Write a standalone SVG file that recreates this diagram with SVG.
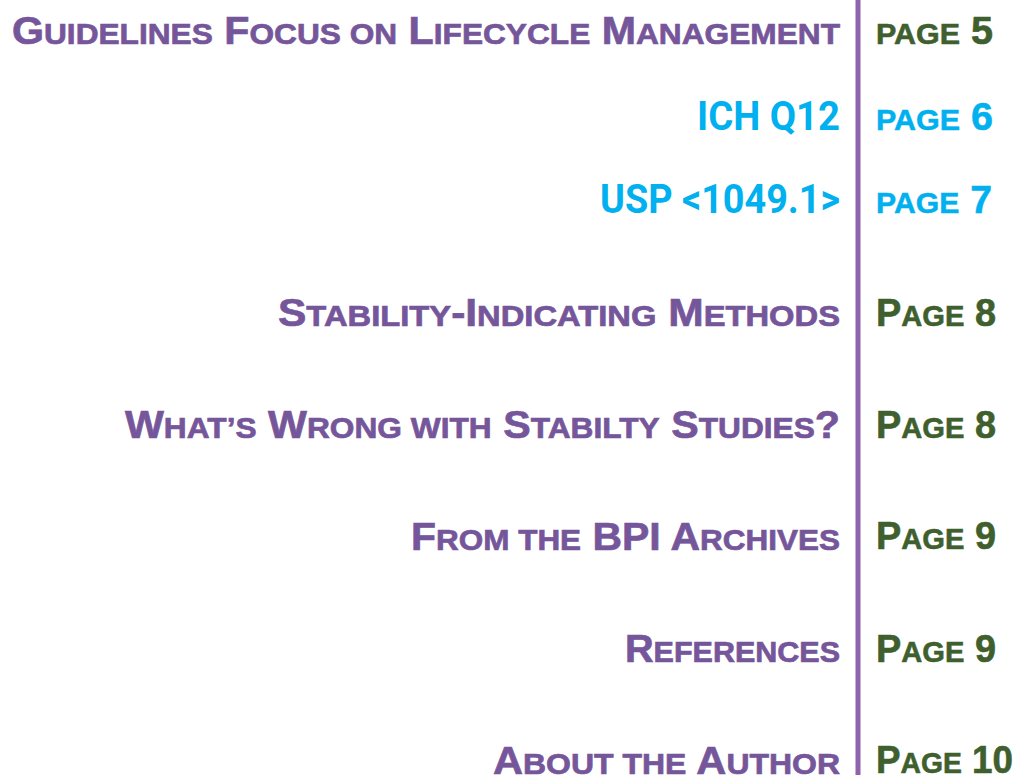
<svg xmlns="http://www.w3.org/2000/svg" width="1021" height="775" viewBox="0 0 1021 775">
<style>
.t{font-family:"Liberation Sans",Arial,sans-serif;font-weight:700;font-size:39px;fill:#76569a;stroke:#76569a;stroke-width:0.7;text-anchor:end}
.c{font-family:Roboto,"Liberation Sans",sans-serif;font-weight:700;font-size:40px;fill:#00b0ef;text-anchor:end}
.p{font-family:"Liberation Sans",Arial,sans-serif;font-weight:700;font-size:39px;fill:#3f5f2e;stroke:#3f5f2e;stroke-width:0.6}
.pc{font-family:"Liberation Sans",Arial,sans-serif;font-weight:700;font-size:39px;fill:#00b0ef;stroke:#00b0ef;stroke-width:0.5}
.s{font-size:30px;text-transform:uppercase}
</style>
<rect width="1021" height="775" fill="#ffffff"/>
<g id="divider"><line x1="858" y1="0" x2="858" y2="775" stroke="#8e63ab" stroke-width="5"/></g>
<g id="row1"><text class="t" x="840" y="44" textLength="828" lengthAdjust="spacingAndGlyphs">G<tspan class="s">uidelines</tspan> F<tspan class="s">ocus on</tspan> L<tspan class="s">ifecycle</tspan> M<tspan class="s">anagement</tspan></text><text class="p" x="876" y="44" textLength="117" lengthAdjust="spacingAndGlyphs"><tspan class="s">page</tspan> 5</text></g>
<g id="row2"><text class="c" x="840" y="130" textLength="143" lengthAdjust="spacingAndGlyphs">ICH Q12</text><text class="pc" x="876" y="130" textLength="117" lengthAdjust="spacingAndGlyphs"><tspan class="s">page</tspan> 6</text></g>
<g id="row3"><text class="c" x="840" y="213" textLength="240" lengthAdjust="spacingAndGlyphs">USP &lt;1049.1&gt;</text><text class="pc" x="876" y="213" textLength="116" lengthAdjust="spacingAndGlyphs"><tspan class="s">page</tspan> 7</text></g>
<g id="row4"><text class="t" x="840" y="326" textLength="562" lengthAdjust="spacingAndGlyphs">S<tspan class="s">tability</tspan>-I<tspan class="s">ndicating</tspan> M<tspan class="s">ethods</tspan></text><text class="p" x="876" y="326" textLength="120" lengthAdjust="spacingAndGlyphs">P<tspan class="s">age</tspan> 8</text></g>
<g id="row5"><text class="t" x="840" y="438" textLength="715" lengthAdjust="spacingAndGlyphs">W<tspan class="s">hat’s</tspan> W<tspan class="s">rong with</tspan> S<tspan class="s">tabilty</tspan> S<tspan class="s">tudies</tspan>?</text><text class="p" x="876" y="438" textLength="120" lengthAdjust="spacingAndGlyphs">P<tspan class="s">age</tspan> 8</text></g>
<g id="row6"><text class="t" x="840" y="550" textLength="429" lengthAdjust="spacingAndGlyphs">F<tspan class="s">rom the</tspan> BPI A<tspan class="s">rchives</tspan></text><text class="p" x="876" y="549" textLength="120" lengthAdjust="spacingAndGlyphs">P<tspan class="s">age</tspan> 9</text></g>
<g id="row7"><text class="t" x="840" y="662" textLength="215" lengthAdjust="spacingAndGlyphs">R<tspan class="s">eferences</tspan></text><text class="p" x="876" y="662" textLength="120" lengthAdjust="spacingAndGlyphs">P<tspan class="s">age</tspan> 9</text></g>
<g id="row8"><text class="t" x="840" y="774" textLength="347" lengthAdjust="spacingAndGlyphs">A<tspan class="s">bout the</tspan> A<tspan class="s">uthor</tspan></text><text class="p" x="876" y="773" textLength="137" lengthAdjust="spacingAndGlyphs">P<tspan class="s">age</tspan> 10</text></g>
</svg>
